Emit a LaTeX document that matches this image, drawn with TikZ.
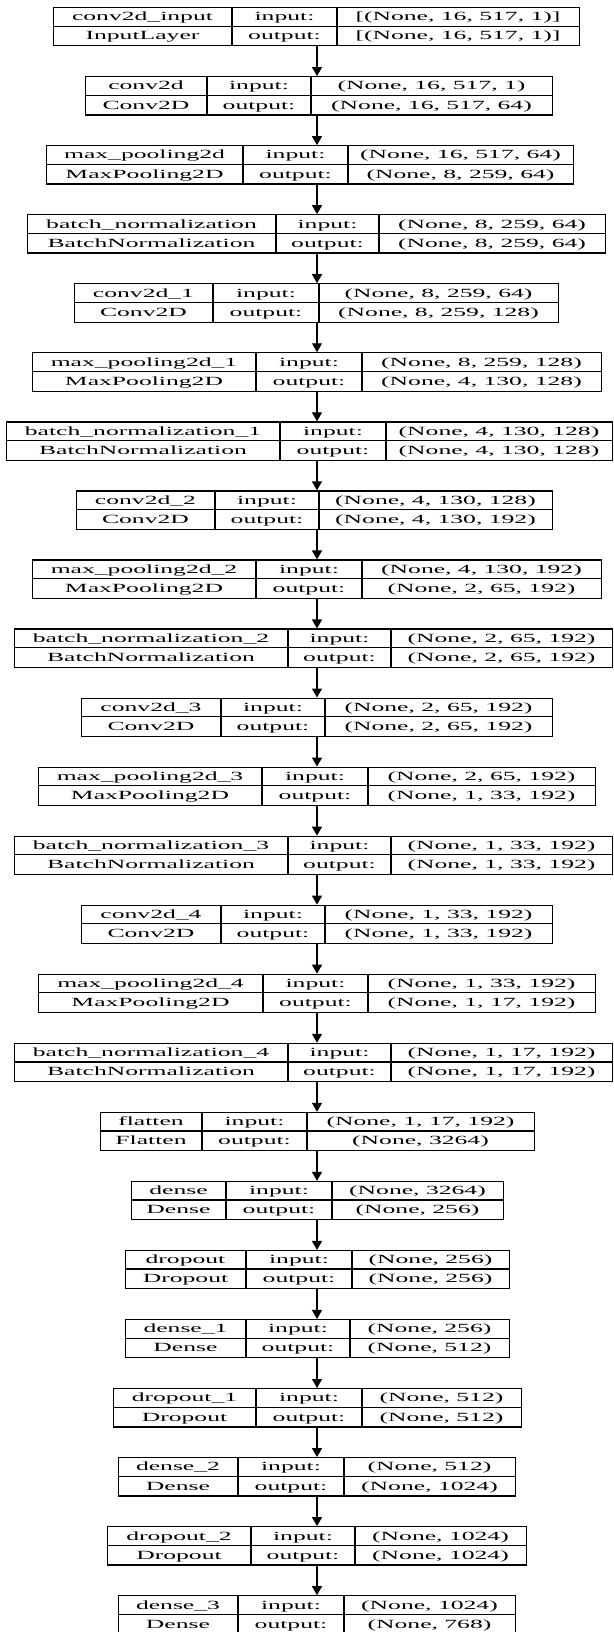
\documentclass[tikz,border=0pt]{standalone}
\usepackage{fontspec}
\setmainfont{Liberation Serif}[FakeStretch=2.05]
\usetikzlibrary{arrows.meta}

\tikzset{
  layerbox/.style={draw, line width=1.2pt, inner sep=0pt, anchor=north west},
  cell/.style={inner sep=0pt, text height=9pt, text depth=0.4pt, font=\fontsize{12.5}{14}\selectfont},
  flow/.style={line width=1.3pt, -{Triangle[length=9pt,width=10pt]}}
}

% one layer: #1 index, #2 left, #3 #4 dividers, #5 right,
% #6 name, #7 class, #8 input shape, #9 output shape
\newcommand{\kerasrow}[9]{%
  \pgfmathsetmacro{\ktop}{7+69.05*(#1-1)}
  \node[layerbox, minimum width={(#5-#2)*1pt}, minimum height=38.3pt] (L#1) at (#2,\ktop) {};
  \draw[line width=1.2pt] (#3,\ktop) -- ++(0,38.3) (#4,\ktop) -- ++(0,38.3)
    (#2,\ktop+19.15) -- (#5,\ktop+19.15);
  \node[cell] (L#1n) at ({(#2+#3)/2},\ktop+9.6) {#6};
  \node[cell] (L#1c) at ({(#2+#3)/2},\ktop+28.7) {#7};
  \node[cell] (L#1i) at ({(#3+#4)/2},\ktop+9.6) {input:};
  \node[cell] (L#1o) at ({(#3+#4)/2},\ktop+28.7) {output:};
  \node[cell] (L#1s) at ({(#4+#5)/2},\ktop+9.6) {#8};
  \node[cell] (L#1t) at ({(#4+#5)/2},\ktop+28.7) {#9};
}

\begin{document}
\begin{tikzpicture}[x=1pt, y=-1pt]
  \useasboundingbox (0,0) rectangle (613,1632);
  \fill[white] (0,0) rectangle (613,1632);

  \kerasrow{1}{53}{232}{337}{579}{conv2d\_input}{InputLayer}{[(None, 16, 517, 1)]}{[(None, 16, 517, 1)]}
  \kerasrow{2}{85}{207}{311}{552}{conv2d}{Conv2D}{(None, 16, 517, 1)}{(None, 16, 517, 64)}
  \kerasrow{3}{46}{243}{348}{573}{max\_pooling2d}{MaxPooling2D}{(None, 16, 517, 64)}{(None, 8, 259, 64)}
  \kerasrow{4}{27}{276}{379}{605}{batch\_normalization}{BatchNormalization}{(None, 8, 259, 64)}{(None, 8, 259, 64)}
  \kerasrow{5}{74}{213}{319}{558}{conv2d\_1}{Conv2D}{(None, 8, 259, 64)}{(None, 8, 259, 128)}
  \kerasrow{6}{32}{256}{362}{601}{max\_pooling2d\_1}{MaxPooling2D}{(None, 8, 259, 128)}{(None, 4, 130, 128)}
  \kerasrow{7}{6}{280}{386}{612}{batch\_normalization\_1}{BatchNormalization}{(None, 4, 130, 128)}{(None, 4, 130, 128)}
  \kerasrow{8}{76}{215}{319}{552}{conv2d\_2}{Conv2D}{(None, 4, 130, 128)}{(None, 4, 130, 192)}
  \kerasrow{9}{32}{256}{362}{601}{max\_pooling2d\_2}{MaxPooling2D}{(None, 4, 130, 192)}{(None, 2, 65, 192)}
  \kerasrow{10}{14}{288}{391}{612}{batch\_normalization\_2}{BatchNormalization}{(None, 2, 65, 192)}{(None, 2, 65, 192)}
  \kerasrow{11}{81}{221}{325}{552}{conv2d\_3}{Conv2D}{(None, 2, 65, 192)}{(None, 2, 65, 192)}
  \kerasrow{12}{38}{262}{368}{595}{max\_pooling2d\_3}{MaxPooling2D}{(None, 2, 65, 192)}{(None, 1, 33, 192)}
  \kerasrow{13}{14}{288}{391}{612}{batch\_normalization\_3}{BatchNormalization}{(None, 1, 33, 192)}{(None, 1, 33, 192)}
  \kerasrow{14}{81}{221}{325}{552}{conv2d\_4}{Conv2D}{(None, 1, 33, 192)}{(None, 1, 33, 192)}
  \kerasrow{15}{38}{263}{368}{595}{max\_pooling2d\_4}{MaxPooling2D}{(None, 1, 33, 192)}{(None, 1, 17, 192)}
  \kerasrow{16}{14}{288}{391}{612}{batch\_normalization\_4}{BatchNormalization}{(None, 1, 17, 192)}{(None, 1, 17, 192)}
  \kerasrow{17}{100}{202}{307}{534}{flatten}{Flatten}{(None, 1, 17, 192)}{(None, 3264)}
  \kerasrow{18}{131}{226}{332}{503}{dense}{Dense}{(None, 3264)}{(None, 256)}
  \kerasrow{19}{125}{246}{352}{509}{dropout}{Dropout}{(None, 256)}{(None, 256)}
  \kerasrow{20}{125}{246}{350}{509}{dense\_1}{Dense}{(None, 256)}{(None, 512)}
  \kerasrow{21}{113}{256}{362}{521}{dropout\_1}{Dropout}{(None, 512)}{(None, 512)}
  \kerasrow{22}{118}{238}{344}{515}{dense\_2}{Dense}{(None, 512)}{(None, 1024)}
  \kerasrow{23}{107}{251}{355}{526}{dropout\_2}{Dropout}{(None, 1024)}{(None, 1024)}
  \kerasrow{24}{118}{238}{344}{515}{dense\_3}{Dense}{(None, 1024)}{(None, 768)}

  % arrows between the layers
  \coordinate (ax) at (317,0);
  \foreach \i [evaluate=\i as \j using int(\i+1)] in {1,...,23}
    \draw[flow] (L\i.south -| ax) -- (L\j.north -| ax);
\end{tikzpicture}
\end{document}
